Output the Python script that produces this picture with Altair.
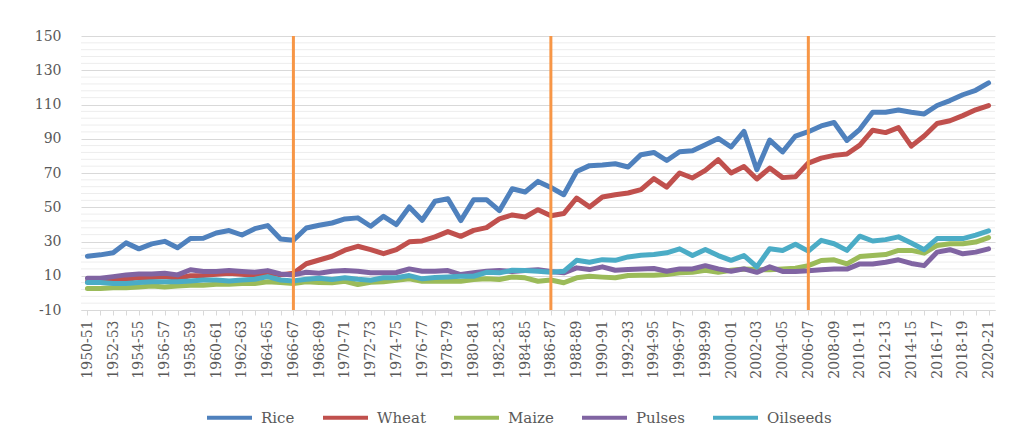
import altair as alt
import pandas as pd

years = [
    "1950-51", "1951-52", "1952-53", "1953-54", "1954-55", "1955-56", "1956-57", "1957-58",
    "1958-59", "1959-60", "1960-61", "1961-62", "1962-63", "1963-64", "1964-65", "1965-66",
    "1966-67", "1967-68", "1968-69", "1969-70", "1970-71", "1971-72", "1972-73", "1973-74",
    "1974-75", "1975-76", "1976-77", "1977-78", "1978-79", "1979-80", "1980-81", "1981-82",
    "1982-83", "1983-84", "1984-85", "1985-86", "1986-87", "1987-88", "1988-89", "1989-90",
    "1990-91", "1991-92", "1992-93", "1993-94", "1994-95", "1995-96", "1996-97", "1997-98",
    "1998-99", "1999-00", "2000-01", "2001-02", "2002-03", "2003-04", "2004-05", "2005-06",
    "2006-07", "2007-08", "2008-09", "2009-10", "2010-11", "2011-12", "2012-13", "2013-14",
    "2014-15", "2015-16", "2016-17", "2017-18", "2018-19", "2019-20", "2020-21",
]

rice = [21.4, 22.2, 23.4, 29.2, 25.7, 28.6, 30.1, 26.3, 31.7, 31.9,
        35.0, 36.4, 33.8, 37.5, 39.3, 31.5, 30.7, 37.9, 39.5, 40.8,
        43.2, 43.8, 38.9, 44.7, 39.9, 50.2, 42.4, 53.5, 55.0, 42.2,
        54.4, 54.4, 48.0, 60.8, 58.9, 65.1, 61.5, 57.3, 70.9, 74.3,
        74.7, 75.4, 73.5, 80.7, 82.0, 77.3, 82.4, 83.0, 86.5, 90.2,
        85.2, 94.3, 71.9, 89.2, 82.3, 91.6, 94.1, 97.5, 99.5, 89.0,
        95.5, 105.5, 105.5, 106.8, 105.5, 104.5, 109.4, 112.3, 115.7, 118.3,
        122.6]

wheat = [6.5, 6.8, 7.5, 8.0, 8.8, 9.0, 9.5, 8.5, 10.0, 10.2,
         10.8, 11.5, 10.8, 10.2, 11.8, 10.5, 11.5, 17.0, 19.2, 21.4,
         24.9, 27.2, 25.3, 22.9, 25.3, 29.8, 30.3, 32.7, 35.8, 33.0,
         36.5, 38.1, 43.2, 45.5, 44.3, 48.6, 45.0, 46.3, 55.4, 50.2,
         56.0, 57.3, 58.3, 60.3, 66.7, 61.8, 70.0, 67.1, 71.5, 77.8,
         70.0, 73.8, 66.5, 72.9, 67.3, 67.8, 75.8, 78.7, 80.3, 81.1,
         86.3, 95.0, 93.6, 96.5, 85.7, 91.6, 98.9, 100.5, 103.5, 106.9,
         109.4]

maize = [2.5, 2.5, 3.0, 3.0, 3.5, 4.0, 3.5, 4.0, 4.5, 4.5,
         5.0, 5.0, 5.5, 5.5, 6.5, 6.0, 5.5, 6.5, 6.0, 5.9,
         6.8, 4.9, 6.2, 6.5, 7.4, 8.2, 6.8, 7.0, 6.8, 6.8,
         7.8, 8.2, 7.8, 9.3, 8.8, 6.8, 7.5, 5.9, 8.8, 9.7,
         9.2, 8.8, 10.1, 10.3, 10.3, 10.7, 11.7, 12.0, 13.2, 12.0,
         13.2, 14.0, 13.6, 13.5, 13.9, 14.4, 15.9, 18.9, 19.3, 16.9,
         21.2, 21.8, 22.4, 24.8, 24.8, 23.2, 27.7, 28.7, 28.7, 29.7,
         32.3]

pulses = [8.5, 8.5, 9.5, 10.5, 11.0, 11.0, 11.5, 10.5, 13.5, 12.5,
          12.5, 13.0, 12.5, 12.0, 13.0, 11.0, 10.5, 12.0, 11.5, 12.6,
          13.0, 12.6, 11.7, 11.7, 11.9, 14.0, 12.6, 12.6, 13.0, 10.7,
          11.7, 12.6, 13.0, 12.5, 13.0, 13.5, 12.5, 11.7, 14.6, 13.6,
          15.2, 13.2, 13.6, 14.0, 14.2, 12.6, 14.0, 14.0, 15.9, 14.0,
          12.6, 14.0, 12.0, 15.2, 12.5, 12.5, 12.9, 13.5, 13.9, 13.9,
          16.9, 16.9, 17.9, 19.3, 17.2, 15.9, 23.8, 25.2, 22.8, 23.8,
          25.7]

oilseeds = [6.0, 6.0, 5.5, 5.5, 6.0, 6.5, 6.5, 6.5, 7.0, 7.5,
            7.5, 7.0, 7.5, 8.0, 9.5, 7.5, 7.0, 8.0, 8.5, 7.8,
            8.8, 8.0, 7.4, 8.8, 8.8, 10.1, 8.2, 9.0, 9.3, 9.7,
            9.7, 12.0, 11.7, 13.2, 13.0, 12.6, 12.0, 12.6, 19.0, 17.9,
            19.4, 19.0, 21.0, 22.0, 22.4, 23.4, 25.7, 21.8, 25.3, 21.8,
            19.0, 21.8, 15.2, 25.8, 24.8, 28.4, 24.4, 30.7, 28.7, 24.8,
            33.1, 30.3, 31.1, 32.7, 29.1, 25.2, 31.7, 31.7, 31.7, 33.7,
            36.2]

series_names = ["Rice", "Wheat", "Maize", "Pulses", "Oilseeds"]
series_colors = ["#4F81BD", "#C0504D", "#9BBB59", "#8064A2", "#4BACC6"]
marker_years = ["1966-67", "1986-87", "2006-07"]
y_major = [-10, 10, 30, 50, 70, 90, 110, 130, 150]
y_minor = [v for v in range(-10, 151, 4) if v not in y_major]

rows = []
for name, vals in zip(series_names, [rice, wheat, maize, pulses, oilseeds]):
    for yr, v in zip(years, vals):
        rows.append({"year": yr, "series": name, "value": v})
df = pd.DataFrame(rows)
markers = pd.DataFrame({"year": marker_years})
minor_df = pd.DataFrame({"value": y_minor})

FONT = "DejaVu Serif"
TXT = "#595959"

x_scale = alt.Scale(type="point", domain=years, padding=0.5)
y_scale = alt.Scale(domain=[-10, 150], nice=False, zero=False)

x_axis = alt.Axis(
    title=None,
    labelAngle=270,
    labelExpr="toNumber(substring(datum.value, 0, 4)) % 2 == 0 ? datum.value : ''",
    labelFont=FONT,
    labelFontSize=14,
    labelColor=TXT,
    labelPadding=5,
    labelOverlap=False,
    domainColor="#D9D9D9",
    tickColor="#D9D9D9",
    tickSize=5,
    grid=False,
)

y_axis = alt.Axis(
    title=None,
    values=y_major,
    labelExpr="toString(datum.value)",
    labelFont=FONT,
    labelFontSize=14,
    labelColor=TXT,
    labelPadding=20,
    labelOverlap=False,
    ticks=False,
    domain=False,
    grid=True,
    gridColor="#D9D9D9",
    gridWidth=1,
)

minor_grid = alt.Chart(minor_df).mark_rule(color="#EDEDED", strokeWidth=1).encode(
    y=alt.Y("value:Q", scale=y_scale, axis=y_axis),
)

lines = alt.Chart(df).mark_line(strokeWidth=5, strokeJoin="round", strokeCap="round").encode(
    x=alt.X("year:O", scale=x_scale, axis=x_axis),
    y=alt.Y("value:Q", scale=y_scale, axis=y_axis),
    color=alt.Color(
        "series:N",
        scale=alt.Scale(domain=series_names, range=series_colors),
        legend=alt.Legend(
            title=None,
            orient="none",
            direction="horizontal",
            legendX=124,
            legendY=357,
            symbolType="stroke",
            symbolSize=2025,
            symbolStrokeWidth=4,
            labelFont=FONT,
            labelFontSize=15,
            labelColor=TXT,
            labelOffset=7,
            columnPadding=20,
        ),
    ),
)

rules = alt.Chart(markers).mark_rule(color="#F79646", strokeWidth=3).encode(
    x=alt.X("year:O", scale=x_scale, axis=x_axis),
    y=alt.Y(datum=150, scale=y_scale, axis=y_axis),
    y2=alt.Y2(datum=-10),
)

chart = alt.layer(minor_grid, lines, rules).properties(
    width=914,
    height=274,
    autosize=alt.AutoSizeParams(type="none"),
    padding={"left": 73, "top": 28, "right": 5, "bottom": 120},
    background="white",
).configure_view(stroke=None)

chart.save("out.html", embed_options={"renderer": "svg", "actions": False})
